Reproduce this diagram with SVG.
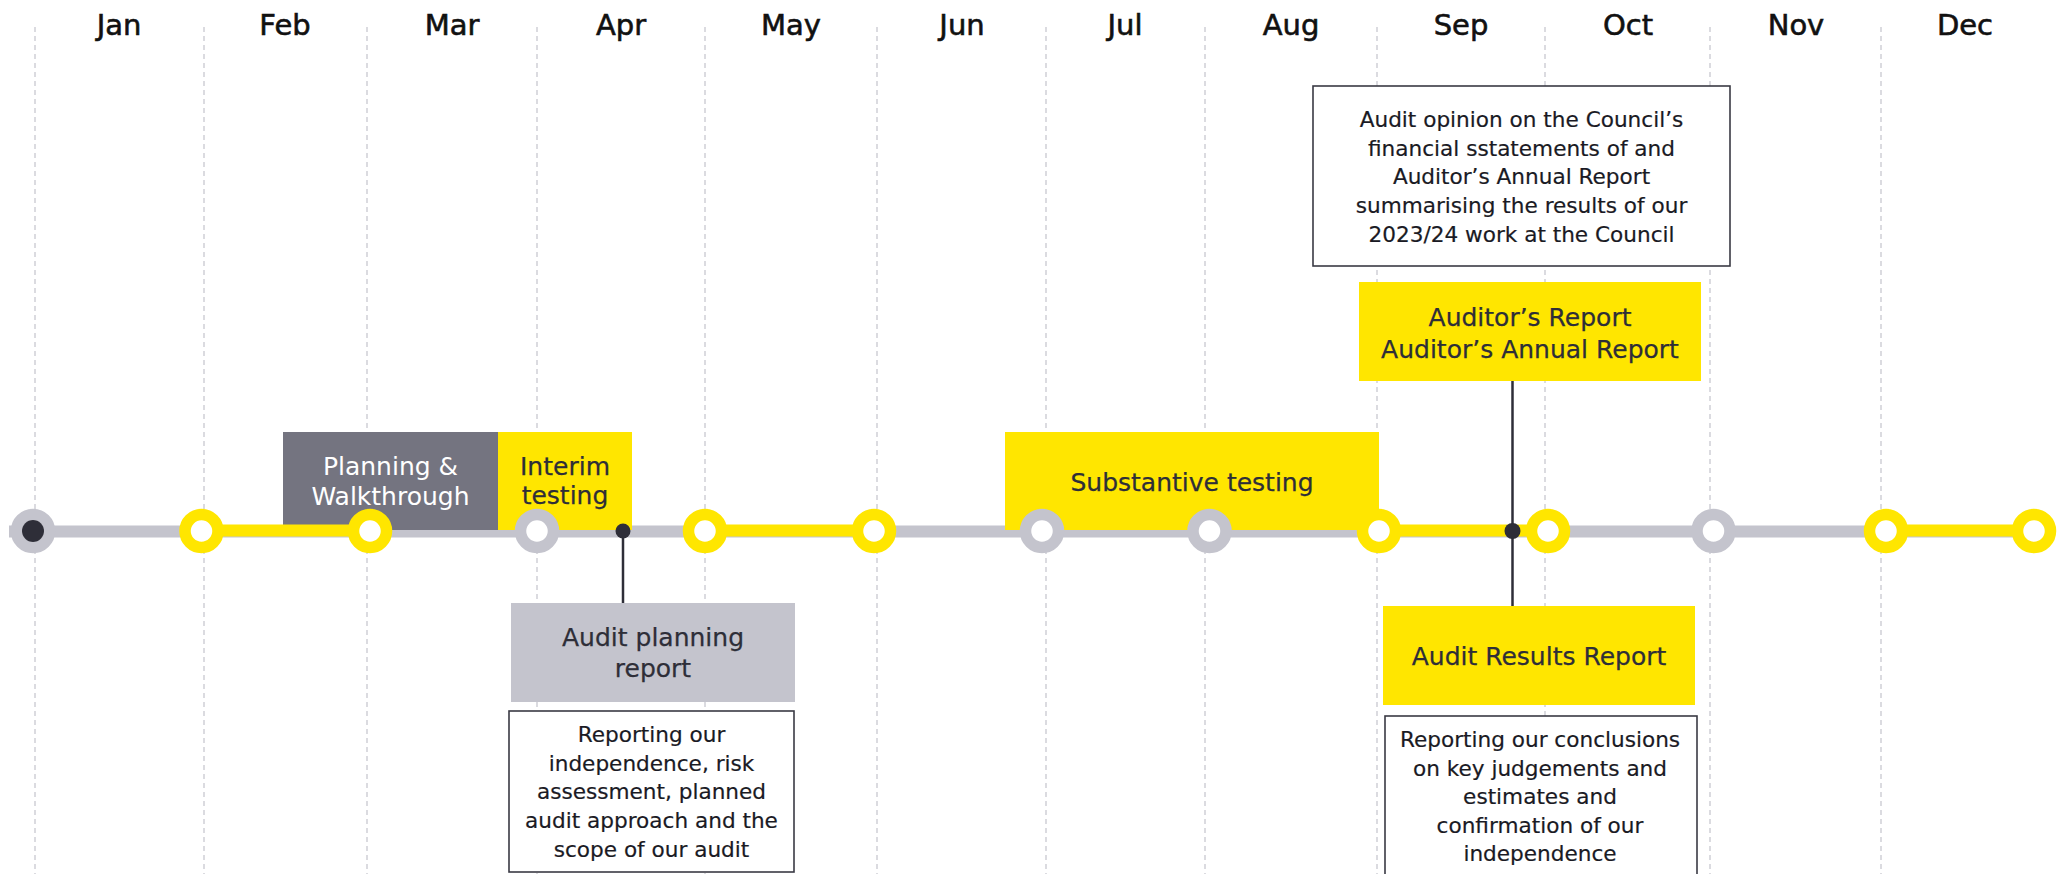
<svg xmlns="http://www.w3.org/2000/svg" width="2066" height="874" viewBox="0 0 2066 874">
<style>
.grid{stroke:#c8c8d0;stroke-width:1.3;stroke-dasharray:5 4;fill:none}
.month{font-family:"DejaVu Sans",sans-serif;font-size:29px;fill:#111;stroke:#111;stroke-width:0.6;text-anchor:middle}
.lbl{font-family:"DejaVu Sans",sans-serif;font-size:25px;fill:#2e2e38;stroke:#2e2e38;stroke-width:0.25;text-anchor:middle}
.lblw{font-family:"DejaVu Sans",sans-serif;font-size:25px;fill:#ffffff;text-anchor:middle}
.desc{font-family:"DejaVu Sans",sans-serif;font-size:21.6px;fill:#1a1a24;stroke:#1a1a24;stroke-width:0.2;text-anchor:middle}
.dbox{fill:#fff;stroke:#3a3a44;stroke-width:1.6}
.ring-y{fill:#fff;stroke:#ffe600;stroke-width:11.5}
.ring-g{fill:#fff;stroke:#c4c4cd;stroke-width:11.5}
.yl{stroke:#ffe600;stroke-width:12;fill:none}
.conn{stroke:#2e2e38;stroke-width:2.5;fill:none}
</style>
<rect width="2066" height="874" fill="#fff"/>
<g id="grid">
<line class="grid" x1="35" y1="27" x2="35" y2="874"/>
<line class="grid" x1="204" y1="27" x2="204" y2="874"/>
<line class="grid" x1="367" y1="27" x2="367" y2="874"/>
<line class="grid" x1="537" y1="27" x2="537" y2="874"/>
<line class="grid" x1="705" y1="27" x2="705" y2="874"/>
<line class="grid" x1="877" y1="27" x2="877" y2="874"/>
<line class="grid" x1="1046" y1="27" x2="1046" y2="874"/>
<line class="grid" x1="1205" y1="27" x2="1205" y2="874"/>
<line class="grid" x1="1377" y1="27" x2="1377" y2="874"/>
<line class="grid" x1="1545" y1="27" x2="1545" y2="874"/>
<line class="grid" x1="1710" y1="27" x2="1710" y2="874"/>
<line class="grid" x1="1881" y1="27" x2="1881" y2="874"/>
</g>
<g id="months">
<text class="month" x="119" y="34.5">Jan</text>
<text class="month" x="285" y="34.5">Feb</text>
<text class="month" x="452" y="34.5">Mar</text>
<text class="month" x="621" y="34.5">Apr</text>
<text class="month" x="791" y="34.5">May</text>
<text class="month" x="962" y="34.5">Jun</text>
<text class="month" x="1125" y="34.5">Jul</text>
<text class="month" x="1291" y="34.5">Aug</text>
<text class="month" x="1461" y="34.5">Sep</text>
<text class="month" x="1628" y="34.5">Oct</text>
<text class="month" x="1796" y="34.5">Nov</text>
<text class="month" x="1965" y="34.5">Dec</text>
</g>
<g id="timeline-base">
<line x1="9" y1="531.5" x2="2030" y2="531.5" stroke="#c4c4cd" stroke-width="12"/>
</g>
<g id="planning">
<rect x="283" y="432" width="215" height="98" fill="#747480"/>
<text class="lblw" x="390.5" y="475">Planning &amp;</text>
<text class="lblw" x="390.5" y="505">Walkthrough</text>
</g>
<g id="interim">
<rect x="498" y="432" width="134" height="98" fill="#ffe600"/>
<text class="lbl" x="565" y="475">Interim</text>
<text class="lbl" x="565" y="504">testing</text>
</g>
<g id="substantive">
<rect x="1005" y="432" width="374" height="98" fill="#ffe600"/>
<text class="lbl" x="1192" y="491">Substantive testing</text>
</g>
<g id="timeline-yellow">
<line class="yl" x1="201" y1="530.5" x2="370" y2="530.5"/>
<line class="yl" x1="705" y1="530.5" x2="874" y2="530.5"/>
<line class="yl" x1="1379" y1="530.5" x2="1548" y2="530.5"/>
<line class="yl" x1="1886" y1="530.5" x2="2034" y2="530.5"/>
</g>
<g id="connectors">
<line class="conn" x1="623" y1="531" x2="623" y2="603"/>
<line class="conn" x1="1512.5" y1="381" x2="1512.5" y2="606"/>
</g>
<g id="milestones">
<circle class="ring-g" cx="33" cy="531" r="16.5"/>
<circle cx="33" cy="531" r="11" fill="#2e2e38"/>
<circle class="ring-y" cx="201.5" cy="531" r="16.5"/>
<circle class="ring-y" cx="370" cy="531" r="16.5"/>
<circle class="ring-g" cx="537" cy="531" r="16.5"/>
<circle class="ring-y" cx="705" cy="531" r="16.5"/>
<circle class="ring-y" cx="874" cy="531" r="16.5"/>
<circle class="ring-g" cx="1042" cy="531" r="16.5"/>
<circle class="ring-g" cx="1209.5" cy="531" r="16.5"/>
<circle class="ring-y" cx="1379" cy="531" r="16.5"/>
<circle class="ring-y" cx="1548" cy="531" r="16.5"/>
<circle class="ring-g" cx="1713.5" cy="531" r="16.5"/>
<circle class="ring-y" cx="1886" cy="531" r="16.5"/>
<circle class="ring-y" cx="2034" cy="531" r="16.5"/>
<circle cx="623" cy="531" r="7.5" fill="#2e2e38"/>
<circle cx="1512.5" cy="531" r="8" fill="#2e2e38"/>
</g>
<g id="audit-planning-report">
<rect x="511" y="603" width="284" height="99" fill="#c4c4cd"/>
<text class="lbl" x="653" y="646">Audit planning</text>
<text class="lbl" x="653" y="677">report</text>
</g>
<g id="planning-desc">
<rect class="dbox" x="509" y="711" width="285" height="161"/>
<text class="desc" x="651.5" y="742">Reporting our</text>
<text class="desc" x="651.5" y="770.7">independence, risk</text>
<text class="desc" x="651.5" y="799.4">assessment, planned</text>
<text class="desc" x="651.5" y="828.1">audit approach and the</text>
<text class="desc" x="651.5" y="856.8">scope of our audit</text>
</g>
<g id="opinion-desc">
<rect class="dbox" x="1313" y="86" width="417" height="180"/>
<text class="desc" x="1521.5" y="127">Audit opinion on the Council’s</text>
<text class="desc" x="1521.5" y="155.7">financial sstatements of and</text>
<text class="desc" x="1521.5" y="184.4">Auditor’s Annual Report</text>
<text class="desc" x="1521.5" y="213.1">summarising the results of our</text>
<text class="desc" x="1521.5" y="241.8">2023/24 work at the Council</text>
</g>
<g id="auditors-report">
<rect x="1359" y="282" width="342" height="99" fill="#ffe600"/>
<text class="lbl" x="1530" y="326">Auditor’s Report</text>
<text class="lbl" x="1530" y="357.5">Auditor’s Annual Report</text>
</g>
<g id="audit-results-report">
<rect x="1383" y="606" width="312" height="99" fill="#ffe600"/>
<text class="lbl" x="1539" y="665">Audit Results Report</text>
</g>
<g id="results-desc">
<rect class="dbox" x="1385" y="716" width="312" height="170"/>
<text class="desc" x="1540" y="747">Reporting our conclusions</text>
<text class="desc" x="1540" y="775.7">on key judgements and</text>
<text class="desc" x="1540" y="804.4">estimates and</text>
<text class="desc" x="1540" y="833.1">confirmation of our</text>
<text class="desc" x="1540" y="861">independence</text>
</g>
</svg>
